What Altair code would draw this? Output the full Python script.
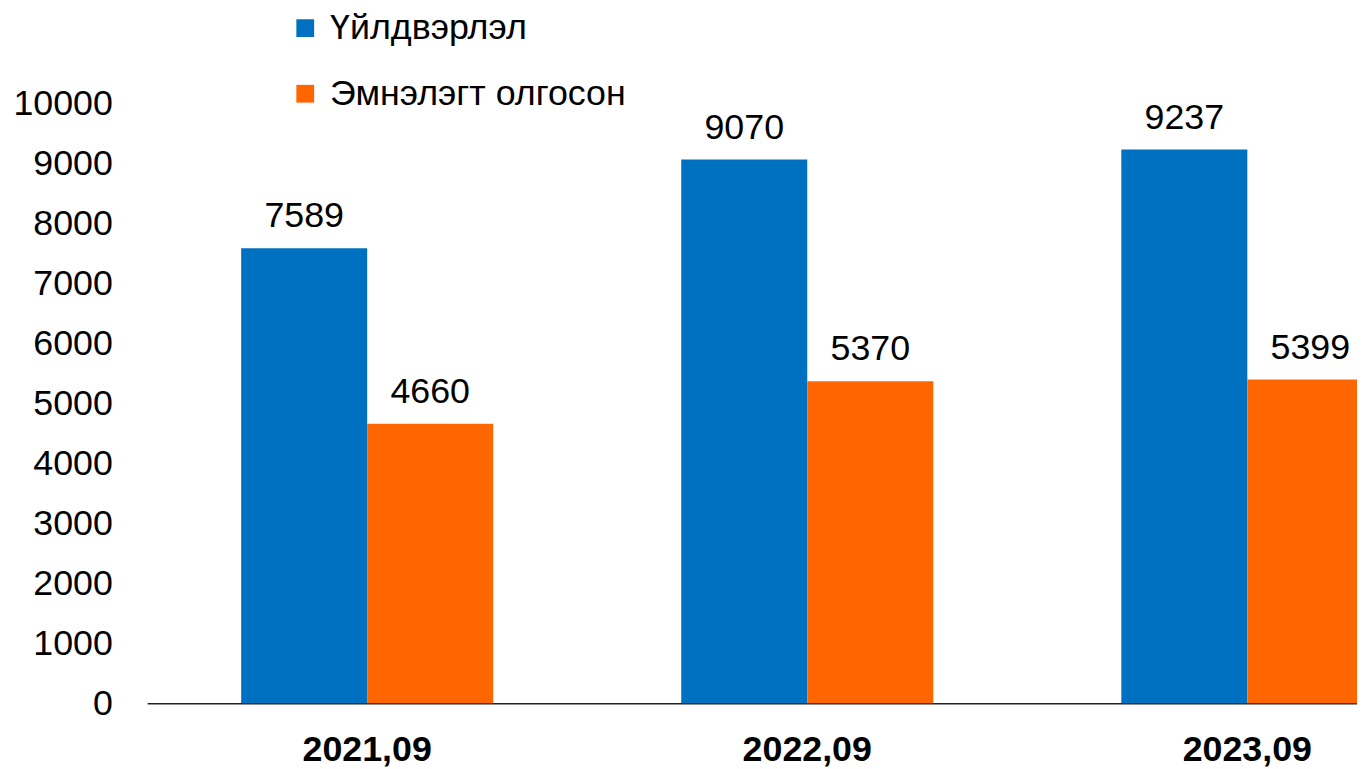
import altair as alt
import pandas as pd

periods = ["2021,09", "2022,09", "2023,09"]
series = ["Үйлдвэрлэл", "Эмнэлэгт олгосон"]
production = [7589, 9070, 9237]
hospital = [4660, 5370, 5399]
colors = ["#0070C0", "#FF6600"]
y_ticks = list(range(0, 10001, 1000))

rows = []
for i, p in enumerate(periods):
    rows.append({"period": p, "series": series[0], "value": production[i]})
    rows.append({"period": p, "series": series[1], "value": hospital[i]})
df = pd.DataFrame(rows)

FONT = "Liberation Sans, Arial, sans-serif"

x = alt.X(
    "period:N", sort=periods, title=None,
    scale=alt.Scale(range=[1, 1329], paddingInner=0.4273, paddingOuter=0.2136),
    axis=alt.Axis(labelAngle=0, labelFontSize=36, labelFontWeight="bold", labelFont=FONT,
                  labelColor="#000", ticks=False, tickSize=0, labelPadding=47, grid=False,
                  labelBaseline="middle", domainColor="#222", domainWidth=1.5),
)
xo = alt.XOffset("series:N", sort=series, scale=alt.Scale(paddingInner=0, paddingOuter=0))
y = alt.Y(
    "value:Q", title=None, scale=alt.Scale(domain=[0, 10000], nice=False),
    axis=alt.Axis(values=y_ticks, format="d", grid=False, domain=False, ticks=False, tickSize=0,
                  labelFontSize=36, labelFont=FONT, labelColor="#000", labelPadding=34),
)
color = alt.Color(
    "series:N", sort=series,
    scale=alt.Scale(domain=series, range=colors),
    legend=alt.Legend(orient="none", legendX=142, legendY=-94, title=None,
                      symbolType="square", symbolSize=320, symbolStrokeWidth=0,
                      labelFontSize=36, labelFont=FONT, labelColor="#000", labelLimit=0,
                      rowPadding=30, labelOffset=7, padding=0, direction="vertical"),
)

base = alt.Chart(df)
bars = base.mark_bar().encode(x=x, xOffset=xo, y=y, color=color)
labels = base.mark_text(fontSize=36, font=FONT, baseline="middle", dy=-32, color="#000").encode(
    x=x, xOffset=xo, y=y, text=alt.Text("value:Q", format="d")
)

chart = (
    alt.layer(bars, labels)
    .properties(width=1218, height=603, background="white",
                autosize=alt.AutoSizeParams(type="none"),
                padding={"left": 139, "top": 94, "right": 0, "bottom": 64})
    .configure_view(strokeWidth=0, stroke="transparent")
)

chart.save("out.html", embed_options={"renderer": "svg", "actions": False})
